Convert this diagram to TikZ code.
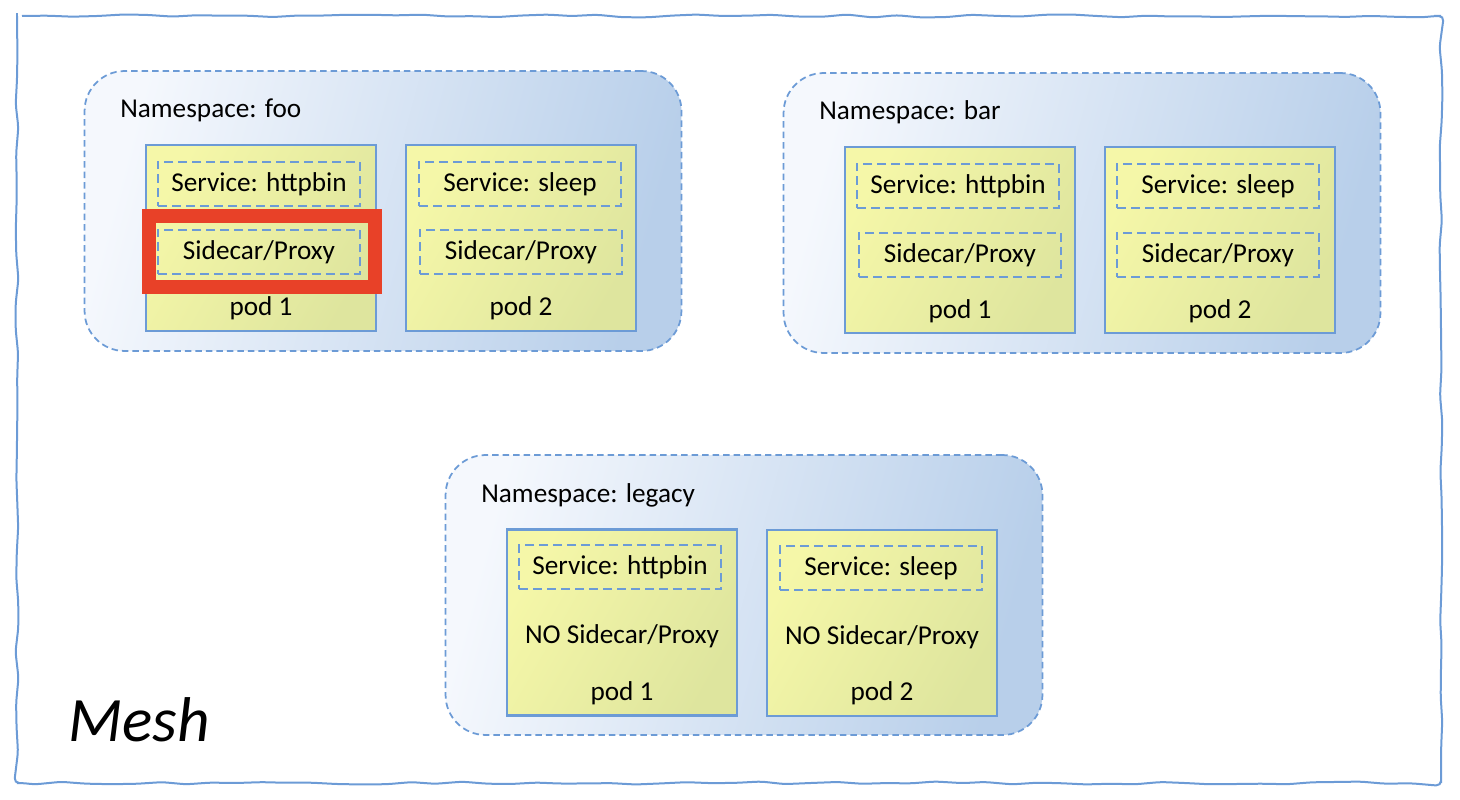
\documentclass[tikz,border=0pt]{standalone}
\usepackage{fontspec}
\setmainfont{Carlito}
\usetikzlibrary{positioning, decorations.pathmorphing}

\definecolor{meshblue}{RGB}{108,155,214}
\definecolor{nslight}{RGB}{245,248,253}
\definecolor{nsdark}{RGB}{184,207,234}
\definecolor{podlight}{RGB}{245,247,168}
\definecolor{poddark}{RGB}{222,229,158}
\definecolor{hlred}{RGB}{232,65,40}

\begin{document}
\begin{tikzpicture}[x=0.02cm, y=-0.02cm,
    % Styles
    namespace/.style={draw=meshblue, line width=0.035cm, dash pattern=on 0.13cm off 0.08cm, rounded corners=0.8cm, left color=nslight, right color=nsdark, shading angle=75, minimum width=11.94cm, minimum height=5.6cm, inner sep=0pt},
    nslabel/.style={anchor=west, inner sep=0pt, font=\fontsize{15.5}{18}\selectfont},
    pod/.style={draw=meshblue, line width=0.045cm, left color=podlight, right color=poddark, shading angle=60, minimum width=4.6cm, minimum height=3.72cm, inner sep=0pt},
    part/.style={draw=meshblue, line width=0.04cm, dash pattern=on 0.18cm off 0.1cm, minimum width=4.04cm, minimum height=0.9cm, inner sep=0pt, font=\fontsize{15.5}{18}\selectfont},
    podname/.style={inner sep=0pt, font=\fontsize{15.5}{18}\selectfont},
    highlight/.style={draw=hlred, line width=0.28cm, minimum width=4.52cm, minimum height=1.44cm, inner sep=0pt},
    meshlabel/.style={anchor=west, inner sep=0pt, font=\fontsize{36}{40}\selectfont\itshape},
    border/.style={draw=meshblue, line width=0.04cm, decorate, decoration={random steps, segment length=0.5cm, amplitude=0.03cm}, rounded corners=0.1cm},
]
\useasboundingbox (0,0) rectangle (1460,800);
\pgfmathsetseed{7}

% Mesh frame
\draw[border] (17,16) -- (1441,16) -- (1441,783) -- (17,783) -- cycle;
\node[meshlabel] (mesh) at (68,720) {Mesh};

% Namespace foo
\begin{scope}[shift={(383,211)}]
    \node[namespace] (foo) at (0,0) {};
    \node[nslabel] (foo-title) at (-263,-101) {Namespace: foo};

    % pod 1
    \node[pod] (foo-pod1) at (-122,27) {};
    \node[part] (foo-svc1) at (-124,-27) {Service: httpbin};
    \node[highlight] (foo-mark) at (-121,40.5) {};
    \node[part] (foo-side1) at (-124,41) {Sidecar/Proxy};
    \node[podname] (foo-name1) at (-122,97) {pod 1};

    % pod 2
    \node[pod] (foo-pod2) at (138,27) {};
    \node[part] (foo-svc2) at (137,-27) {Service: sleep};
    \node[part] (foo-side2) at (138,41) {Sidecar/Proxy};
    \node[podname] (foo-name2) at (138,97) {pod 2};
\end{scope}

% Namespace bar
\begin{scope}[shift={(1082,213)}]
    \node[namespace] (bar) at (0,0) {};
    \node[nslabel] (bar-title) at (-263,-101) {Namespace: bar};

    % pod 1
    \node[pod] (bar-pod1) at (-122,27) {};
    \node[part] (bar-svc1) at (-124,-27) {Service: httpbin};
    \node[part] (bar-side1) at (-122,42) {Sidecar/Proxy};
    \node[podname] (bar-name1) at (-122,98) {pod 1};

    % pod 2
    \node[pod] (bar-pod2) at (138,27) {};
    \node[part] (bar-svc2) at (136,-27) {Service: sleep};
    \node[part] (bar-side2) at (136,42) {Sidecar/Proxy};
    \node[podname] (bar-name2) at (138,98) {pod 2};
\end{scope}

% Namespace legacy
\begin{scope}[shift={(744,595)}]
    \node[namespace] (legacy) at (0,0) {};
    \node[nslabel] (legacy-title) at (-263,-100) {Namespace: legacy};

    % pod 1
    \node[pod] (legacy-pod1) at (-122,27.5) {};
    \node[part] (legacy-svc1) at (-124,-28) {Service: httpbin};
    \node[podname] (legacy-side1) at (-122,41) {NO Sidecar/Proxy};
    \node[podname] (legacy-name1) at (-122,98) {pod 1};

    % pod 2
    \node[pod] (legacy-pod2) at (138,28) {};
    \node[part] (legacy-svc2) at (137,-27) {Service: sleep};
    \node[podname] (legacy-side2) at (138,42) {NO Sidecar/Proxy};
    \node[podname] (legacy-name2) at (138,98) {pod 2};
\end{scope}

\end{tikzpicture}
\end{document}
